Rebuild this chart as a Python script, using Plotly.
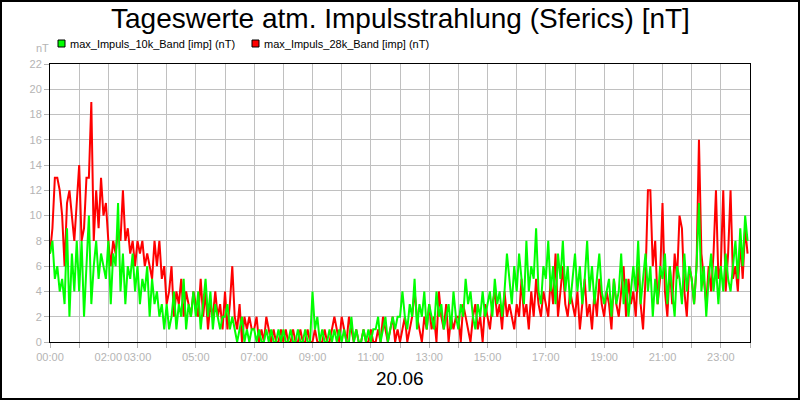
import numpy as np
import pandas as pd
import plotly.graph_objects as go

# 5-minute values, 12 per hour, 00:00 .. 23:55 on 20.06
red_28k = [
    7, 9, 13, 13, 12, 10, 6, 11, 12, 10, 8, 11,
    14, 8, 9, 13, 13, 19, 8, 12, 9, 13, 10, 11,
    8, 6, 8, 7, 9, 8, 12, 8, 9, 7, 8, 6,
    8, 7, 8, 6, 7, 6, 5, 8, 6, 8, 5, 6,
    3, 4, 6, 2, 4, 3, 5, 2, 4, 3, 2, 4,
    3, 2, 5, 2, 4, 1, 3, 2, 4, 2, 3, 1,
    4, 1, 3, 6, 2, 1, 3, 0, 2, 1, 2, 1,
    1, 2, 0, 1, 0, 2, 1, 0, 1, 0, 0, 1,
    0, 1, 0, 0, 1, 0, 0, 1, 0, 0, 1, 0,
    0, 1, 0, 0, 0, 1, 0, 0, 1, 2, 1, 0,
    2, 1, 0, 2, 1, 0, 1, 0, 0, 1, 0, 0,
    1, 0, 0, 1, 0, 2, 1, 0, 1, 2, 0, 1,
    0, 1, 2, 0, 1, 2, 4, 2, 1, 0, 2, 1,
    3, 1, 2, 0, 4, 2, 1, 3, 0, 2, 1, 2,
    2, 0, 3, 2, 1, 0, 2, 3, 1, 2, 0, 3,
    2, 1, 3, 4, 2, 3, 1, 4, 2, 3, 2, 1,
    3, 2, 5, 2, 3, 1, 4, 2, 5, 3, 2, 4,
    3, 2, 5, 3, 7, 2, 4, 6, 3, 2, 4, 3,
    2, 4, 1, 3, 5, 2, 3, 1, 4, 2, 5, 3,
    2, 4, 3, 1, 5, 3, 2, 4, 6, 2, 5, 3,
    4, 2, 6, 3, 1, 5, 12, 12, 6, 8, 3, 5,
    11, 4, 2, 6, 3, 7, 5, 10, 9, 4, 2, 6,
    5, 3, 6, 16, 7, 5, 3, 6, 4, 7, 12, 5,
    6, 12, 4, 7, 12, 5, 6, 4, 8, 5, 9, 7,
]

green_10k = [
    7, 8, 5, 6, 4, 5, 3, 9, 2, 7, 4, 8,
    4, 8, 2, 6, 10, 3, 6, 8, 5, 7, 6, 5,
    8, 3, 7, 6, 11, 4, 7, 3, 6, 5, 7, 4,
    6, 3, 5, 4, 6, 2, 5, 3, 4, 2, 3, 1,
    3, 1, 2, 4, 1, 3, 2, 5, 1, 3, 2, 4,
    2, 4, 1, 3, 5, 2, 4, 1, 3, 2, 1, 2,
    2, 3, 1, 2, 1, 0, 1, 2, 0, 1, 0, 1,
    1, 0, 1, 0, 0, 1, 0, 1, 0, 0, 1, 0,
    1, 0, 0, 1, 0, 0, 1, 0, 0, 1, 0, 0,
    4, 1, 2, 0, 1, 0, 0, 1, 0, 1, 0, 1,
    0, 1, 0, 0, 2, 0, 1, 0, 0, 1, 0, 1,
    0, 1, 1, 2, 0, 1, 2, 0, 1, 2, 1, 2,
    2, 4, 2, 1, 3, 2, 5, 1, 3, 2, 4, 1,
    3, 2, 1, 4, 2, 3, 1, 2, 3, 1, 4, 2,
    1, 3, 2, 5, 3, 4, 2, 1, 3, 2, 4, 2,
    3, 4, 2, 5, 3, 4, 2, 4, 7, 5, 3, 6,
    4, 7, 5, 3, 8, 4, 6, 5, 9, 4, 3, 6,
    5, 8, 4, 6, 3, 7, 5, 8, 4, 6, 3, 5,
    7, 4, 6, 3, 5, 8, 4, 6, 3, 5, 7, 4,
    3, 4, 5, 2, 5, 3, 4, 7, 3, 5, 2, 4,
    6, 4, 8, 3, 5, 7, 4, 6, 2, 5, 3, 6,
    5, 7, 3, 6, 4, 2, 6, 5, 3, 7, 4, 6,
    5, 3, 6, 11, 4, 6, 2, 5, 7, 4, 6, 3,
    6, 4, 7, 5, 4, 6, 8, 5, 9, 6, 10, 8,
]

series_names = ["max_Impuls_10k_Band [imp] (nT)", "max_Impuls_28k_Band [imp] (nT)"]
tick_hours = list(range(25))
shown_labels = {0: "00:00", 2: "02:00", 3: "03:00", 5: "05:00", 7: "07:00", 9: "09:00",
                11: "11:00", 13: "13:00", 15: "15:00", 17: "17:00", 19: "19:00",
                21: "21:00", 23: "23:00"}
y_ticks = list(range(0, 23, 2))

start = pd.Timestamp("2024-06-20 00:00")
times = pd.date_range(start, periods=len(red_28k), freq="5min")
tickvals = [start + pd.Timedelta(hours=h) for h in tick_hours]
ticktext = [shown_labels.get(h, "") for h in tick_hours]

W, H = 800, 400
L, R, T, B = 50, 750, 64, 342


def px(x):
    return (x - L) / (R - L)


def py(y):
    return (B - y) / (B - T)


fig = go.Figure()
fig.add_trace(go.Scatter(x=times, y=red_28k, mode="lines", line=dict(color="#ff0000", width=2),
                         name=series_names[1], showlegend=False))
fig.add_trace(go.Scatter(x=times, y=green_10k, mode="lines", line=dict(color="#00ff00", width=2),
                         name=series_names[0], showlegend=False))

grey = "#b4b4b4"
fig.update_xaxes(range=[tickvals[0], tickvals[-1]], tickvals=tickvals, ticktext=ticktext,
                 tickangle=0,
                 showgrid=True, gridcolor="#c0c0c0", gridwidth=1,
                 ticks="outside", ticklen=5, tickcolor=grey,
                 tickfont=dict(family="Liberation Sans, Arial", size=11, color=grey),
                 showline=True, linecolor="black", linewidth=1, mirror=True, zeroline=False)
fig.update_yaxes(range=[0, 22], tickvals=y_ticks,
                 showgrid=True, gridcolor="#c0c0c0", gridwidth=1,
                 ticks="outside", ticklen=5, tickcolor=grey,
                 tickfont=dict(family="Liberation Sans, Arial", size=11, color=grey),
                 showline=True, linecolor="black", linewidth=1, mirror=True, zeroline=False)

shapes = [
    dict(type="rect", xref="paper", yref="paper", x0=px(1), x1=px(799), y0=py(399), y1=py(1),
         line=dict(color="black", width=2), fillcolor="rgba(0,0,0,0)", layer="above"),
    dict(type="rect", xref="paper", yref="paper", x0=px(58), x1=px(65), y0=py(47), y1=py(40),
         line=dict(color="black", width=1), fillcolor="#00ff00"),
    dict(type="rect", xref="paper", yref="paper", x0=px(252), x1=px(259), y0=py(47), y1=py(40),
         line=dict(color="black", width=1), fillcolor="#ff0000"),
]

font = "Liberation Sans, Arial"
annotations = [
    dict(text="Tageswerte atm. Impulsstrahlung (Sferics) [nT]", xref="paper", yref="paper",
         x=px(400), y=py(19), xanchor="center", yanchor="middle", showarrow=False,
         font=dict(family=font, size=28, color="black")),
    dict(text=series_names[0], xref="paper", yref="paper", x=px(68), y=py(44),
         xanchor="left", yanchor="middle", showarrow=False, font=dict(family=font, size=11, color="black")),
    dict(text=series_names[1], xref="paper", yref="paper", x=px(262), y=py(44),
         xanchor="left", yanchor="middle", showarrow=False, font=dict(family=font, size=11, color="black")),
    dict(text="nT", xref="paper", yref="paper", x=px(42), y=py(48),
         xanchor="center", yanchor="middle", showarrow=False, font=dict(family=font, size=11, color=grey)),
    dict(text="20.06", xref="paper", yref="paper", x=px(400), y=py(378),
         xanchor="center", yanchor="middle", showarrow=False, font=dict(family=font, size=19, color="black")),
]

fig.update_layout(width=W, height=H, margin=dict(l=L, r=W - R, t=T, b=H - B),
                  paper_bgcolor="white", plot_bgcolor="white", showlegend=False,
                  shapes=shapes, annotations=annotations)

fig.write_html("out.html")
